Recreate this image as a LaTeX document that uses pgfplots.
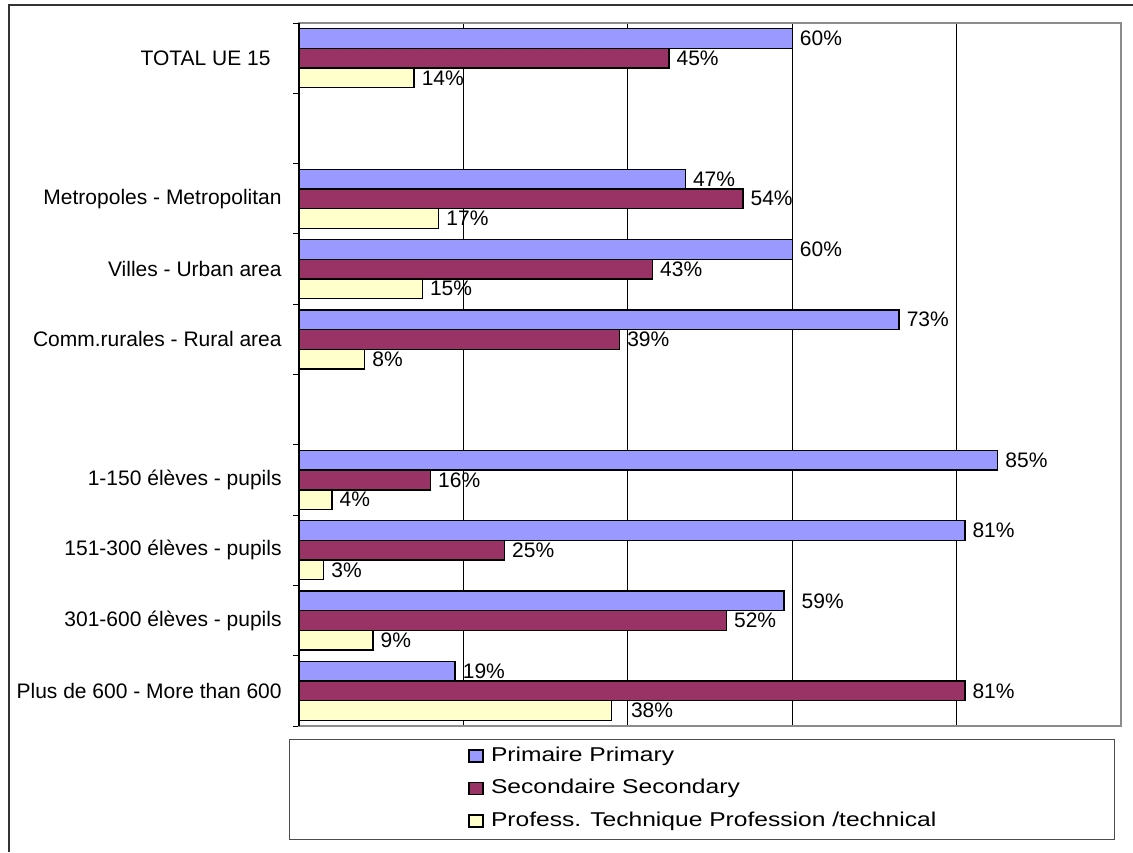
\documentclass[border=0pt]{standalone}
\usepackage{fontspec}
\setmainfont{Liberation Sans}
\newfontfamily\legfont[FakeStretch=1.23]{Liberation Sans}
\usepackage{pgfplots}
\pgfplotsset{compat=1.18}
\usepackage{pgfplotstable}
\definecolor{prim}{HTML}{9999FF}
\definecolor{sec}{HTML}{993366}
\definecolor{prof}{HTML}{FFFFCC}
\pgfplotstableread{
y P S T dP dT
0 60 45 14 0 0
2 47 54 17 0 0
3 60 43 15 0 0
4 73 39 8 0 0
6 85 16 4 0 0
7 81 25 3 0 0
8 59 52 9 5 0
9 19 81 38 0 6
}\datatable
\begin{document}
\begin{tikzpicture}
\path[use as bounding box] (-149.5pt,-63pt) rectangle (417pt,363pt);
\begin{axis}[
  name=ax, at={(0pt,0pt)}, anchor=south west,
  scale only axis, width=411pt, height=351.5pt,
  xbar, bar width=0.28,
  xmin=0, xmax=100, ymin=-0.5, ymax=9.5, y dir=reverse,
  enlargelimits=false, clip=false,
  xtick={20,40,60,80}, xticklabels={},
  xmajorgrids, major grid style={black, line width=0.5pt},
  ytick={0,2,3,4,6,7,8,9},
  yticklabels={TOTAL UE 15\rule{5.5pt}{0pt},Metropoles - Metropolitan,Villes - Urban area,Comm.rurales - Rural area,1-150 élèves - pupils,151-300 élèves - pupils,301-600 élèves - pupils,Plus de 600 - More than 600},
  minor ytick={-0.5,0.5,...,9.5},
  major tick length=0pt, minor tick length=3pt, tick align=outside,
  ytick pos=left, xtick pos=bottom,
  minor tick style={black, line width=0.5pt},
  axis line style={draw=black!45, line width=0.7pt},
  yticklabel style={inner sep=0pt, xshift=-8.5pt, font=\fontsize{10.5}{12}\selectfont},
  point meta=x,
  nodes near coords={\pgfmathprintnumber[assume math mode=true]{\pgfplotspointmeta}\%},
  nodes near coords align={horizontal},
  every node near coord/.append style={anchor=west, inner sep=0pt, xshift=3.5pt, font=\fontsize{10.5}{12}\selectfont, black},
  legend style={at={(axis description cs:0.2056,-0.0285)}, anchor=north west, draw=none, fill=none,
    inner sep=0pt, row sep=6.75pt, column sep=1.7pt,
    font=\legfont\fontsize{10}{12}\selectfont,
    nodes={inner ysep=0pt, text height=7.5pt, text depth=2pt}},
  legend cell align=left,
  legend image code/.code={\draw[#1, line width=0.6pt] (0pt,-3pt) rectangle (7pt,3pt);},
]
\addplot[fill=prim, draw=black, line width=0.7pt, bar shift=-0.28,
  visualization depends on={\thisrow{dP} \as \dxp},
  every node near coord/.append style={xshift=\dxp pt}]
  table[x=P, y=y] {\datatable};
\addlegendentry{Primaire Primary}
\addplot[fill=sec, draw=black, line width=0.7pt, bar shift=0]
  table[x=S, y=y] {\datatable};
\addlegendentry{Secondaire Secondary}
\addplot[fill=prof, draw=black, line width=0.7pt, bar shift=0.28,
  visualization depends on={\thisrow{dT} \as \dxt},
  every node near coord/.append style={xshift=\dxt pt}]
  table[x=T, y=y] {\datatable};
\addlegendentry{Profess. Technique Profession /technical}
\end{axis}
\draw[black, line width=0.6pt] (0pt,0pt) -- (0pt,351.5pt);
\draw[black!70, line width=0.5pt] (-5pt,-6.5pt) rectangle (407.5pt,-56.5pt);
\draw[black!80, line width=1pt] (-145pt,-63pt) -- (-145pt,360.25pt) -- (417pt,360.25pt);
\end{tikzpicture}
\end{document}
